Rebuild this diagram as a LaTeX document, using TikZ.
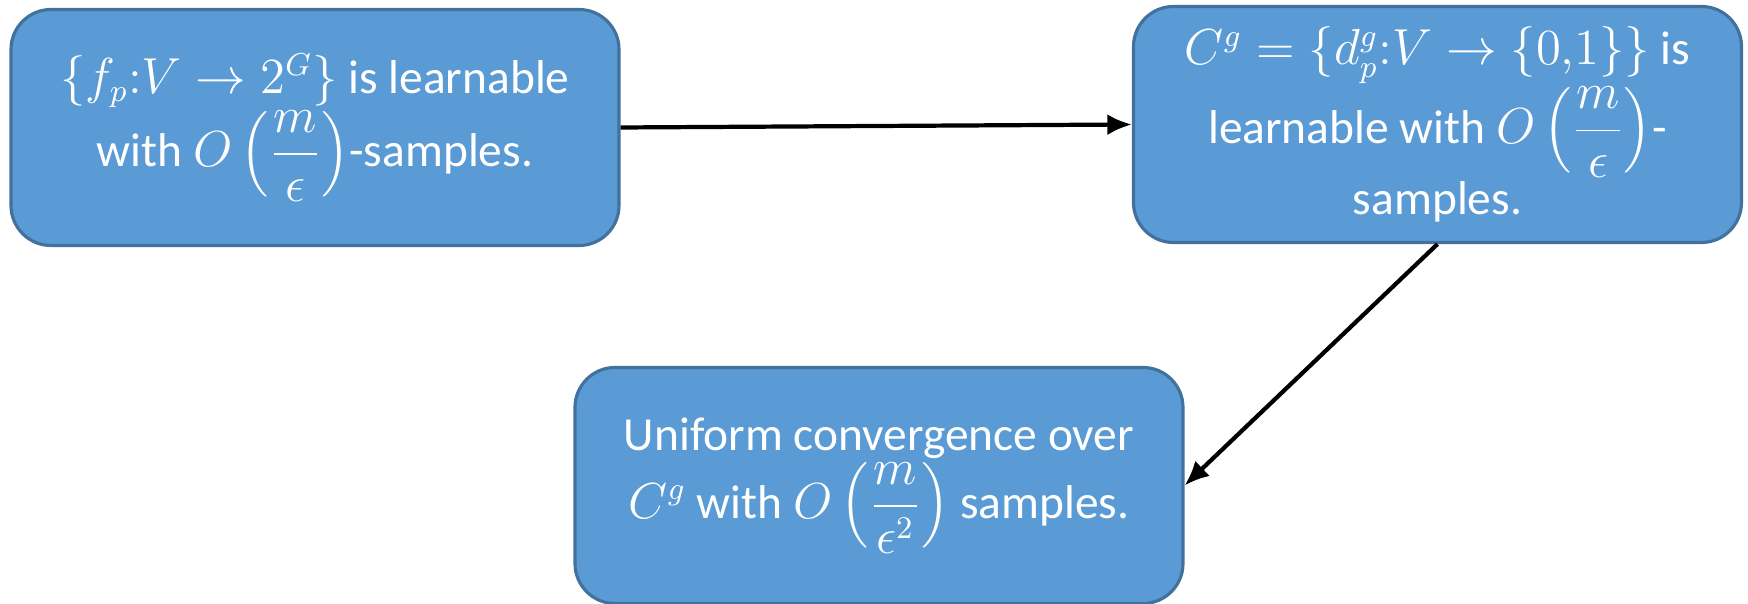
\documentclass[tikz,border=0pt]{standalone}
\usepackage{amsmath,amssymb}
\usepackage{fontspec}
\setmainfont{Carlito}
\usepackage{tikz}
\usetikzlibrary{arrows.meta, positioning}
\definecolor{boxfill}{HTML}{5B9BD5}
\definecolor{boxline}{HTML}{41719C}

\begin{document}
\begin{tikzpicture}[
  blk/.style={rectangle, rounded corners=0.4cm, minimum width=6.08cm, minimum height=2.36cm,
              align=center, text=white, font=\fontsize{13.5}{17}\selectfont,
              draw=boxline, line width=0.9pt, fill=boxfill},
  rel/.style={-{Latex[length=7pt, width=6pt]}, line width=1.2pt, black},
]
  \useasboundingbox (0,0) rectangle (17.48,-6.04);

  \node[blk] (fam)  at (3.15,-1.275)  {$\{f_p{:}V\to 2^G\}$ is learnable\\
                                        with $O\left(\dfrac{m}{\epsilon}\right)$-samples.};
  \node[blk] (cls)  at (14.375,-1.245) {$C^g=\{d_p^g{:}V\to\{0{,}1\}\}$ is\\
                                        learnable with $O\left(\dfrac{m}{\epsilon}\right)$-\\
                                        samples.};
  \node[blk] (unif) at (8.79,-4.855)  {Uniform convergence over\\
                                        $C^g$ with $O\left(\dfrac{m}{\epsilon^2}\right)$ samples.};

  \draw[rel] (fam.east) -- (cls.west);
  \draw[rel] (cls.south) -- (unif.east);
\end{tikzpicture}
\end{document}
